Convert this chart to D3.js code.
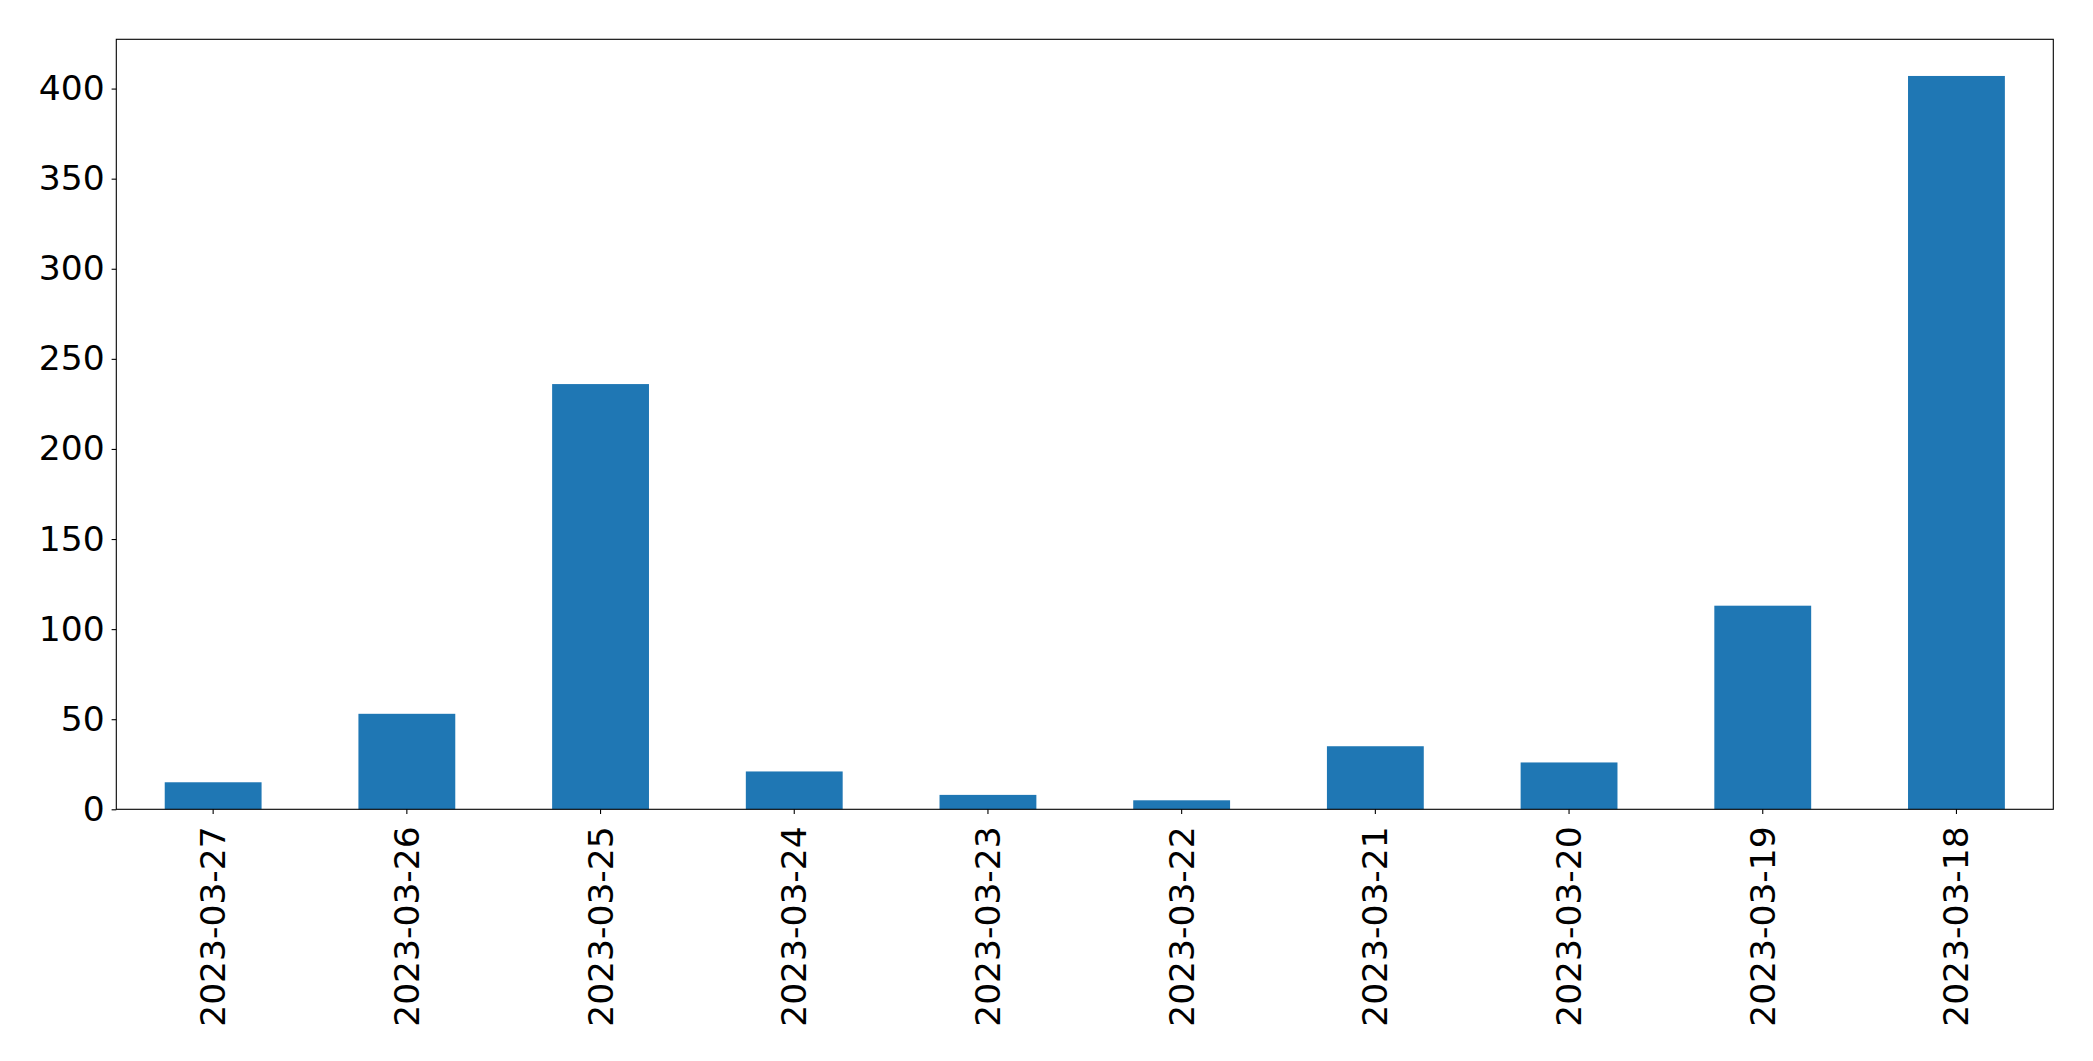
<!DOCTYPE html>
<html>
<head>
<meta charset="utf-8">
<script src="https://cdn.jsdelivr.net/npm/d3@7"></script>
<style>
  html, body { margin: 0; padding: 0; background: #fff; }
  svg { display: block; }
</style>
</head>
<body>
<div id="chart"></div>
<script>
const categories = ["2023-03-27", "2023-03-26", "2023-03-25", "2023-03-24", "2023-03-23",
                    "2023-03-22", "2023-03-21", "2023-03-20", "2023-03-19", "2023-03-18"];
const values = [15, 53, 236, 21, 8, 5, 35, 26, 113, 407];
const yTicks = [0, 50, 100, 150, 200, 250, 300, 350, 400];

const W = 2093, H = 1061;
const plot = { left: 116.3, top: 39.3, right: 2053.3, bottom: 809.3 };
const fontSize = 34.5;
const fontFamily = "'DejaVu Sans', sans-serif";

const svg = d3.select("#chart").append("svg")
  .attr("width", W).attr("height", H);

const x = d3.scaleBand()
  .domain(categories)
  .range([plot.left, plot.right])
  .paddingInner(0.5)
  .paddingOuter(0.25);

const yMax = d3.max(values) * 1.05;
const y = d3.scaleLinear()
  .domain([0, yMax])
  .range([plot.bottom, plot.top]);

// bars
svg.append("g").selectAll("rect")
  .data(values)
  .join("rect")
  .attr("x", (d, i) => x(categories[i]))
  .attr("width", x.bandwidth())
  .attr("y", d => y(d))
  .attr("height", d => y(0) - y(d))
  .attr("fill", "#1f77b4");

// y axis
const yAxis = svg.append("g")
  .attr("transform", `translate(${plot.left},0)`)
  .call(d3.axisLeft(y).tickValues(yTicks).tickSize(4.7).tickPadding(7).tickFormat(d3.format("d")));
yAxis.select(".domain").remove();
yAxis.selectAll("line").attr("stroke", "#000").attr("stroke-width", 1.1);
yAxis.selectAll("text")
  .attr("font-family", fontFamily)
  .attr("font-size", fontSize)
  .attr("fill", "#000");

// x axis
const xAxis = svg.append("g")
  .attr("transform", `translate(0,${plot.bottom})`)
  .call(d3.axisBottom(x).tickSize(4.7).tickPadding(0));
xAxis.select(".domain").remove();
xAxis.selectAll("line").attr("stroke", "#000").attr("stroke-width", 1.1);
xAxis.selectAll("text")
  .attr("font-family", fontFamily)
  .attr("font-size", fontSize)
  .attr("fill", "#000")
  .attr("text-anchor", "end")
  .attr("dy", null)
  .attr("y", 0)
  .attr("dominant-baseline", "central")
  .attr("transform", "translate(0,17) rotate(-90)");

// frame
svg.append("rect")
  .attr("x", plot.left)
  .attr("y", plot.top)
  .attr("width", plot.right - plot.left)
  .attr("height", plot.bottom - plot.top)
  .attr("fill", "none")
  .attr("stroke", "#000")
  .attr("stroke-width", 1.1);
</script>
</body>
</html>
